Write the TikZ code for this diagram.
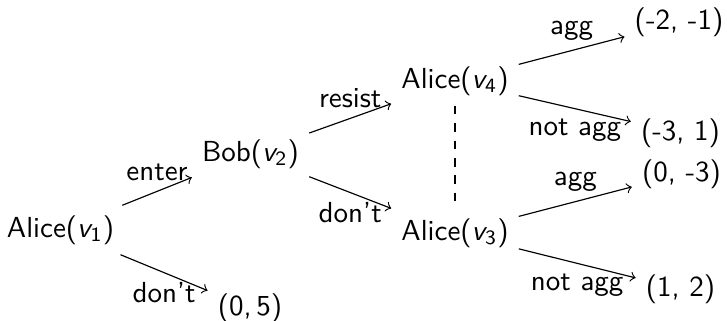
\documentclass[tikz,border=0pt]{standalone}
\renewcommand{\familydefault}{\sfdefault}
\newcommand{\vsub}[1]{{\itshape v}\textsubscript{#1}}
\begin{document}
\begin{tikzpicture}[x=0.345pt,y=-0.345pt,
  every node/.style={font=\sffamily, inner sep=3.33pt},
  move/.style={->},
  info/.style={dashed}]
\clip (0,0) rectangle (727,320);
\node (v1) at (60.5,230) {Alice(\vsub{1})};
\node (v2) at (250.5,154) {Bob(\vsub{2})};
\node (v4) at (455,81) {Alice(\vsub{4})};
\node (v3) at (455,233) {Alice(\vsub{3})};
\node (l0) at (250,308) {(0,\,5)};
\node (l1) at (679,22.5) {(-2, -1)};
\node (l2) at (680.5,133) {(-3, 1)};
\node (l3) at (681.5,174) {(0, -3)};
\node (l4) at (680.5,289) {(1, 2)};
\draw[move] (v1) -- node[above] {enter} (v2);
\draw[move] (v1) -- node[below] {don't} (l0);
\draw[move] (v2) -- node[above] {resist} (v4);
\draw[move] (v2) -- node[below] {don't} (v3);
\draw[move] (v4) -- node[above] {agg} (l1);
\draw[move] (v4) -- node[below] {not agg} (l2);
\draw[move] (v3) -- node[above] {agg} (l3);
\draw[move] (v3) -- node[below] {not agg} (l4);
\draw[info] (v4) -- (v3);
\end{tikzpicture}
\end{document}
